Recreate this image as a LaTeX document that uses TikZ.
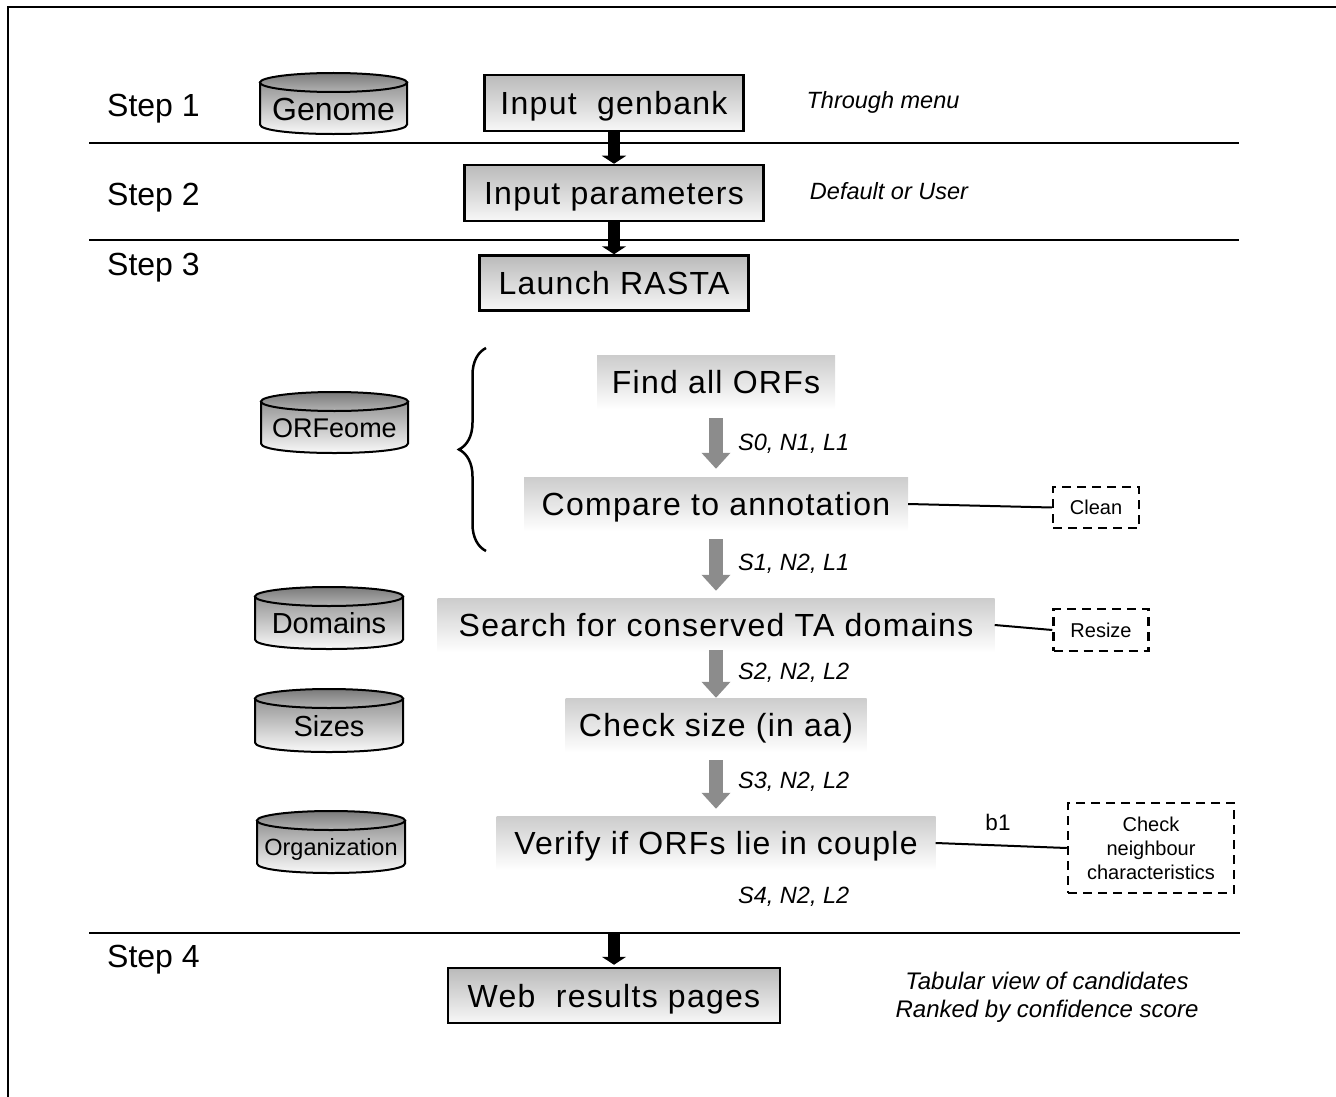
\documentclass[tikz,border=0pt]{standalone}
\usepackage{fontspec}
\setmainfont{Liberation Sans}
\newfontfamily\boxfont[LetterSpace=4]{Liberation Sans}
\usetikzlibrary{arrows.meta,decorations.pathreplacing}
\definecolor{arrgray}{gray}{0.55}
\tikzset{
  mainbox/.style={draw, line width=2.5pt, top color=black!27, bottom color=black!3,
    minimum height=56, inner sep=0pt, font=\boxfont\fontsize{32}{38}\selectfont,
    text height=23pt, text depth=0pt},
  graybox/.style={top color=black!20, bottom color=white, minimum height=54, inner sep=0pt,
    font=\boxfont\fontsize{32}{38}\selectfont, text height=23pt, text depth=0pt},
  cylbody/.style={draw, line width=2pt, top color=black!42, bottom color=white},
  cyltop/.style={draw, line width=2pt, top color=black!52, bottom color=black!30},
  cyltext/.style={inner sep=0pt, text depth=0pt},
  blackarrow/.style={line width=12pt, -{Triangle[width=24pt,length=8pt]}},
  grayarrow/.style={draw=arrgray, line width=14pt, -{Triangle[width=28pt,length=16pt]}},
  dashbox/.style={draw, line width=2.5pt, dash pattern=on 9pt off 6pt,
    font=\fontsize{20}{24}\selectfont, align=center, inner sep=0pt},
  note/.style={font=\itshape\fontsize{23.5}{28}\selectfont, inner sep=0pt, text height=17pt, text depth=0pt},
  steplabel/.style={font=\fontsize{32}{38}\selectfont, anchor=base west, inner sep=0pt},
  sepline/.style={line width=2pt},
  link/.style={line width=2pt}
}
% name, x1, y1, x2, y2, font size, text
\newcommand\dbcyl[7]{%
  \pgfmathsetmacro\cxa{#2}\pgfmathsetmacro\cxb{#4}%
  \pgfmathsetmacro\cyt{#3+9.5}\pgfmathsetmacro\cyb{#5-9.5}%
  \pgfmathsetmacro\cyba{#5-9.5+12.67}%
  \pgfmathsetmacro\cmx{(#2+#4)/2}\pgfmathsetmacro\crx{(#4-#2)/2}%
  \pgfmathsetmacro\cmy{(#3+#5)/2+5.5}%
  \draw[cylbody] (\cxa,\cyt) -- (\cxa,\cyb) .. controls (\cxa,\cyba) and (\cxb,\cyba) .. (\cxb,\cyb) -- (\cxb,\cyt) -- cycle;
  \draw[cyltop] (\cmx,\cyt) ellipse [x radius=\crx, y radius=9.5];
  \node[cyltext, font=\fontsize{#6}{#6}\selectfont, text height=0.716*#6] (#1) at (\cmx,\cmy) {#7};
}
\begin{document}
\begin{tikzpicture}[x=1pt,y=-1pt]
\useasboundingbox (0,0) rectangle (1336,1097);
% frame
\draw[line width=2pt] (1336,7) -- (8,7) -- (8,1097);
% separators
\draw[sepline] (89,143) -- (1239,143);
\draw[sepline] (89,240) -- (1239,240);
\draw[sepline] (89,933) -- (1240,933);
% step labels
\node[steplabel] (st1) at (107,117) {Step 1};
\node[steplabel] (st2) at (107,205) {Step 2};
\node[steplabel] (st3) at (107,275) {Step 3};
\node[steplabel] (st4) at (107,967) {Step 4};
% cylinders
\dbcyl{genome}{260}{73}{407}{134}{32}{Genome}
\dbcyl{orfeome}{261}{392}{408}{453}{27}{ORFeome}
\dbcyl{domains}{255}{587}{403}{649}{29}{Domains}
\dbcyl{sizes}{255}{689}{403}{752}{29}{Sizes}
\dbcyl{organization}{257}{811}{405}{873}{23.5}{Organization}
% main boxes
\node[mainbox, minimum width=259] (genbank) at (614,103) {Input\ \ genbank};
\node[mainbox, minimum width=299] (params) at (614,193) {Input parameters};
\node[mainbox, minimum width=269, minimum height=55] (launch) at (614,283) {Launch RASTA};
\node[mainbox, minimum width=332, minimum height=55] (web) at (614,995.5) {Web\ \ results pages};
% notes
\node[note] (thr) at (883,100) {Through menu};
\node[note] (def) at (889,191) {Default or User};
\node[note, font=\itshape\fontsize{24}{28}\selectfont] (tab1) at (1047,981) {Tabular view of candidates};
\node[note, font=\itshape\fontsize{24}{28}\selectfont] (tab2) at (1047,1009) {Ranked by confidence score};
% black arrows
\draw[blackarrow] (genbank) -- (params);
\draw[blackarrow] (params) -- (launch);
\coordinate (s4top) at (614,933);
\draw[blackarrow, shorten >=2pt] (s4top) -- (web.north);
% brace
\draw[line width=2.5pt, decorate, decoration={brace, amplitude=27pt}] (486,551) -- (486,348);
% gray boxes
\node[graybox, minimum width=238] (find) at (716,382) {Find all ORFs};
\node[graybox, minimum width=384] (compare) at (716,504) {Compare to annotation};
\node[graybox, minimum width=557] (search) at (716,625) {Search for conserved TA domains};
\node[graybox, minimum width=301] (check) at (716,725) {Check size (in aa)};
\node[graybox, minimum width=439] (verify) at (716,843) {Verify if ORFs lie in couple};
% gray arrows
\draw[grayarrow, shorten <=9pt, shorten >=8pt] (find) -- (compare);
\draw[grayarrow, shorten <=8pt, shorten >=7pt] (compare) -- (search);
\draw[grayarrow, shorten <=-2pt, shorten >=0pt] (search) -- (check);
\draw[grayarrow, shorten <=8pt, shorten >=7pt] (check) -- (verify);
% arrow labels
\node[note, anchor=west] (l0) at (738,442) {S0, N1, L1};
\node[note, anchor=west] (l1) at (738,562) {S1, N2, L1};
\node[note, anchor=west] (l2) at (738,671) {S2, N2, L2};
\node[note, anchor=west] (l3) at (738,780) {S3, N2, L2};
\node[note, anchor=west] (l4) at (738,895) {S4, N2, L2};
% dashed boxes
\node[dashbox, minimum width=86, minimum height=41] (clean) at (1096,507.5) {Clean};
\node[dashbox, minimum width=95, minimum height=42] (resize) at (1101,630) {Resize};
\node[dashbox, minimum width=166, minimum height=90] (neigh) at (1151,848) {Check\\neighbour\\characteristics};
\draw[link] (compare.east) -- (clean.west);
\draw[link] (search.east) -- (resize.west);
\draw[link] (verify.east) -- (neigh.west);
\node[inner sep=0pt, font=\fontsize{22.5}{27}\selectfont, text height=16pt, text depth=0pt] (b1) at (998,822) {b1};
\end{tikzpicture}
\end{document}
